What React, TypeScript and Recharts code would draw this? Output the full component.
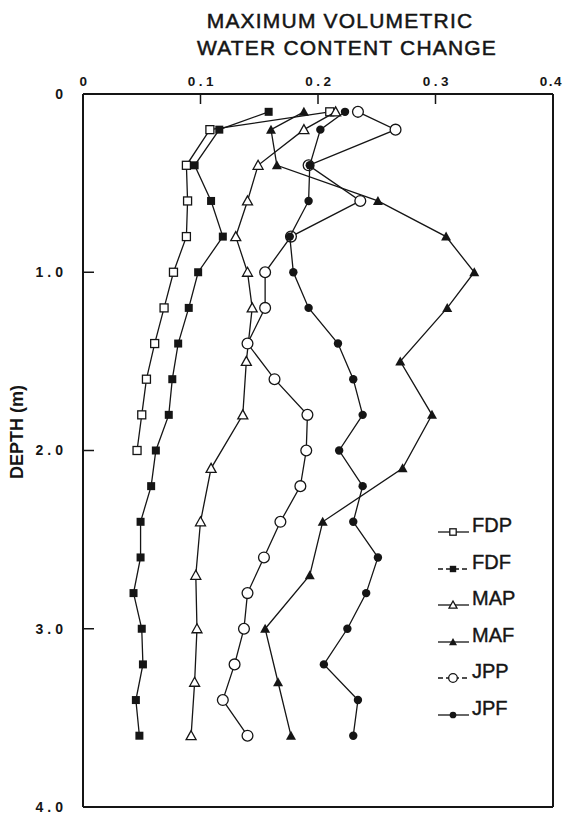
import React from 'react';
import { ScatterChart, Scatter, XAxis, YAxis, Legend } from 'recharts';

// ---- data (depth in m, maximum volumetric water content change) ----
const fdpDepth = [0.1, 0.2, 0.4, 0.6, 0.8, 1.0, 1.2, 1.4, 1.6, 1.8, 2.0];
const fdpValue = [0.21, 0.108, 0.088, 0.089, 0.088, 0.077, 0.069, 0.061, 0.054, 0.05, 0.046];

const fdfDepth = [0.1, 0.2, 0.4, 0.6, 0.8, 1.0, 1.2, 1.4, 1.6, 1.8, 2.0, 2.2, 2.4, 2.6, 2.8, 3.0, 3.2, 3.4, 3.6];
const fdfValue = [0.158, 0.116, 0.095, 0.109, 0.119, 0.098, 0.09, 0.081, 0.076, 0.073, 0.062, 0.058, 0.049, 0.049, 0.043, 0.05, 0.051, 0.045, 0.048];

const mapDepth = [0.1, 0.2, 0.4, 0.6, 0.8, 1.0, 1.2, 1.5, 1.8, 2.1, 2.4, 2.7, 3.0, 3.3, 3.6];
const mapValue = [0.215, 0.188, 0.149, 0.14, 0.13, 0.14, 0.144, 0.139, 0.136, 0.109, 0.1, 0.096, 0.097, 0.095, 0.092];

const mafDepth = [0.1, 0.2, 0.4, 0.6, 0.8, 1.0, 1.2, 1.5, 1.8, 2.1, 2.4, 2.7, 3.0, 3.3, 3.6];
const mafValue = [0.188, 0.16, 0.165, 0.251, 0.309, 0.333, 0.31, 0.27, 0.297, 0.272, 0.204, 0.193, 0.155, 0.166, 0.177];

const jppDepth = [0.1, 0.2, 0.4, 0.6, 0.8, 1.0, 1.2, 1.4, 1.6, 1.8, 2.0, 2.2, 2.4, 2.6, 2.8, 3.0, 3.2, 3.4, 3.6];
const jppValue = [0.234, 0.266, 0.192, 0.236, 0.177, 0.155, 0.155, 0.14, 0.163, 0.191, 0.19, 0.185, 0.168, 0.154, 0.14, 0.137, 0.129, 0.119, 0.14];

const jpfDepth = [0.1, 0.2, 0.4, 0.6, 0.8, 1.0, 1.2, 1.4, 1.6, 1.8, 2.0, 2.2, 2.4, 2.6, 2.8, 3.0, 3.2, 3.4, 3.6];
const jpfValue = [0.223, 0.202, 0.193, 0.192, 0.176, 0.179, 0.192, 0.217, 0.23, 0.238, 0.218, 0.238, 0.23, 0.251, 0.241, 0.225, 0.205, 0.234, 0.23];

const seriesNames = ['FDP', 'FDF', 'MAP', 'MAF', 'JPP', 'JPF'];
const xTicks = [0, 0.1, 0.2, 0.3, 0.4];
const yTicks = [0, 1, 2, 3, 4];
const titleLines = ['MAXIMUM VOLUMETRIC', 'WATER CONTENT CHANGE'];
const yAxisTitle = 'DEPTH (m)';

type Kind = 'sqOpen' | 'sqFill' | 'triOpen' | 'triFill' | 'cirOpen' | 'cirFill';

const zip = (d: number[], v: number[]) => d.map((dd, i) => ({ d: dd, v: v[i] }));

const series: { name: string; kind: Kind; data: { d: number; v: number }[] }[] = [
  { name: seriesNames[0], kind: 'sqOpen', data: zip(fdpDepth, fdpValue) },
  { name: seriesNames[1], kind: 'sqFill', data: zip(fdfDepth, fdfValue) },
  { name: seriesNames[2], kind: 'triOpen', data: zip(mapDepth, mapValue) },
  { name: seriesNames[3], kind: 'triFill', data: zip(mafDepth, mafValue) },
  { name: seriesNames[4], kind: 'cirOpen', data: zip(jppDepth, jppValue) },
  { name: seriesNames[5], kind: 'cirFill', data: zip(jpfDepth, jpfValue) },
];

const INK = '#151515';
const FONT = 'Arial, "Liberation Sans", Helvetica, sans-serif';

function Marker({ cx, cy, kind, s = 1 }: { cx: number; cy: number; kind: Kind; s?: number }) {
  if (cx == null || cy == null || isNaN(cx) || isNaN(cy)) return null;
  const sw = 1.3;
  switch (kind) {
    case 'sqOpen': {
      const h = 4 * s;
      return <rect x={cx - h} y={cy - h} width={2 * h} height={2 * h} fill="#fff" stroke={INK} strokeWidth={sw} />;
    }
    case 'sqFill': {
      const h = 4 * s;
      return <rect x={cx - h} y={cy - h} width={2 * h} height={2 * h} fill={INK} />;
    }
    case 'triOpen': {
      const w = 5 * s;
      return (
        <path
          d={`M${cx},${cy - 5 * s} L${cx + w},${cy + 4 * s} L${cx - w},${cy + 4 * s} Z`}
          fill="#fff"
          stroke={INK}
          strokeWidth={sw}
        />
      );
    }
    case 'triFill': {
      const w = 5 * s;
      return <path d={`M${cx},${cy - 5 * s} L${cx + w},${cy + 4 * s} L${cx - w},${cy + 4 * s} Z`} fill={INK} />;
    }
    case 'cirOpen':
      return <circle cx={cx} cy={cy} r={5.4 * s} fill="#fff" stroke={INK} strokeWidth={sw} />;
    case 'cirFill':
    default:
      return <circle cx={cx} cy={cy} r={4.2 * s} fill={INK} />;
  }
}

function LegendBox() {
  return (
    <div style={{ position: 'relative', width: 130, height: 230, fontFamily: FONT }}>
      {series.map((s, i) => (
        <div key={s.name} style={{ position: 'absolute', left: 0, top: i * 36.6, width: 130, height: 26 }}>
          <svg width={34} height={26} style={{ position: 'absolute', left: 0, top: 0 }}>
            <line
              x1={1}
              x2={32}
              y1={17}
              y2={17}
              stroke={INK}
              strokeWidth={1.3}
              strokeDasharray={i === 1 || i === 4 ? '5 3' : undefined}
            />
            <Marker cx={16} cy={17} kind={s.kind} s={0.8} />
          </svg>
          <span
            style={{
              position: 'absolute',
              left: 35,
              top: 0,
              fontSize: 20,
              lineHeight: '20px',
              color: INK,
              whiteSpace: 'nowrap',
              WebkitTextStroke: '0.4px ' + INK,
            }}
          >
            {s.name}
          </span>
        </div>
      ))}
    </div>
  );
}

const fmtY = (v: number) => (v === 0 ? '0' : v.toFixed(1));

const tickStyle = { fontSize: 14, fontWeight: 700, fill: INK, fontFamily: FONT, letterSpacing: 4 };

function TopTick(props: any) {
  const { x, y, payload } = props;
  const v = payload.value as number;
  const label = v === 0 ? '0' : v.toFixed(1);
  const last = v >= 0.4;
  return (
    <text
      x={last ? 563 : x + 2}
      y={y}
      textAnchor={last ? 'end' : 'middle'}
      fontSize={13.5}
      fontWeight={700}
      fontFamily={FONT}
      letterSpacing={last ? 1.5 : 3.5}
      fill={INK}
    >
      {label}
    </text>
  );
}

export default function App() {
  return (
    <div
      style={{
        position: 'absolute',
        left: 0,
        top: 0,
        width: 564,
        height: 814,
        background: '#fff',
        fontFamily: FONT,
        overflow: 'hidden',
      }}
    >
      {titleLines.map((t, i) => (
        <div
          key={t}
          style={{
            position: 'absolute',
            left: 140 + i * 7,
            top: 10 + i * 27,
            width: 400,
            textAlign: 'center',
            fontSize: 21,
            lineHeight: '21px',
            letterSpacing: 1.2,
            color: INK,
            whiteSpace: 'nowrap',
            WebkitTextStroke: '0.5px ' + INK,
          }}
        >
          {t}
        </div>
      ))}
      <ScatterChart width={564} height={814} margin={{ top: 0, right: 10, bottom: 6, left: 0 }}>
        <XAxis
          xAxisId="top"
          type="number"
          dataKey="v"
          orientation="top"
          domain={[0, 0.4]}
          ticks={xTicks}
          interval={0}
          allowDataOverflow
          height={94}
          tickSize={-10}
          tickMargin={18}
          axisLine={{ stroke: INK, strokeWidth: 2 }}
          tickLine={{ stroke: INK, strokeWidth: 1.5 }}
          tick={<TopTick />}
        />
        <XAxis
          xAxisId="bottom"
          type="number"
          dataKey="v"
          orientation="bottom"
          domain={[0, 0.4]}
          ticks={[0.1, 0.2, 0.3]}
          interval={0}
          allowDataOverflow
          height={1}
          tickSize={-9}
          tick={false}
          axisLine={{ stroke: INK, strokeWidth: 2 }}
          tickLine={{ stroke: INK, strokeWidth: 1.5 }}
        />
        <YAxis
          yAxisId="left"
          type="number"
          dataKey="d"
          domain={[0, 4]}
          reversed
          ticks={yTicks}
          interval={0}
          allowDataOverflow
          tickFormatter={fmtY}
          width={83}
          tickSize={-11}
          tickMargin={27}
          axisLine={{ stroke: INK, strokeWidth: 2 }}
          tickLine={{ stroke: INK, strokeWidth: 1.5 }}
          tick={tickStyle}
          label={{
            content: () => (
              <text
                x={17}
                y={432}
                transform="rotate(-90 17 432)"
                textAnchor="middle"
                dominantBaseline="central"
                fontSize={18}
                fontWeight={700}
                fontFamily={FONT}
                fill={INK}
              >
                {yAxisTitle}
              </text>
            ),
          }}
        />
        <YAxis
          yAxisId="right"
          type="number"
          dataKey="d"
          orientation="right"
          domain={[0, 4]}
          reversed
          ticks={[1, 2, 3]}
          interval={0}
          allowDataOverflow
          width={1}
          tickSize={-9}
          tick={false}
          axisLine={{ stroke: INK, strokeWidth: 2 }}
          tickLine={{ stroke: INK, strokeWidth: 1.5 }}
        />
        <Legend
          layout="vertical"
          align="center"
          verticalAlign="middle"
          wrapperStyle={{ position: 'absolute', left: 437, top: 515, width: 130, height: 230 }}
          content={() => <LegendBox />}
        />
        {series.map((s) => (
          <Scatter
            key={s.name}
            name={s.name}
            data={s.data}
            xAxisId="top"
            yAxisId="left"
            line={{ stroke: INK, strokeWidth: 1.3 }}
            lineType="joint"
            isAnimationActive={false}
            shape={(p: any) => <Marker cx={p.cx} cy={p.cy} kind={s.kind} />}
          />
        ))}
      </ScatterChart>
    </div>
  );
}
